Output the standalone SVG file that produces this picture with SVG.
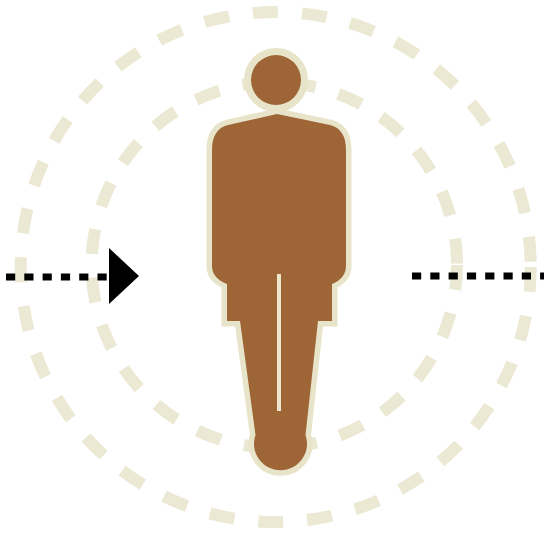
<svg xmlns="http://www.w3.org/2000/svg" width="544" height="533" viewBox="0 0 544 533">
<style>
.ring{fill:none;stroke:#ebe8d3;stroke-width:12}
.fig{fill:#9e6537;stroke:#e8e4ca;stroke-width:11;stroke-linejoin:miter;paint-order:stroke}
.flow{fill:none;stroke:#000;stroke-width:7;stroke-dasharray:9.2 9.1}
</style>
<rect width="544" height="533" fill="#fff"/>
<g id="outer-ring"><circle class="ring" cx="275.7" cy="267" r="255" stroke-dasharray="25 24.1"/></g>
<g id="inner-ring"><circle class="ring" cx="274.3" cy="265" r="182.7" stroke-dasharray="25 23.74"/></g>
<g id="person">
<circle class="fig" cx="276" cy="80" r="25" style="stroke-width:14"/>
<path class="fig" d="M277 114 L228 125 Q212 129 212 150 L212 266 Q212 278 227 284 L227 321 L240 321 L255.5 435 A26.5 26.5 0 1 0 305.5 435 L318 321 L332 321 L332 284 Q346 278 346 266 L346 150 Q346 129 330 125 Z"/>
<rect x="277" y="274" width="4" height="137" fill="#efe8cf"/>
</g>
<g id="connectors">
<path class="flow" d="M6 277H110"/>
<polygon points="109,248 139,276 109,304" fill="#000"/>
<path class="flow" d="M412 276H544"/>
</g>
</svg>
